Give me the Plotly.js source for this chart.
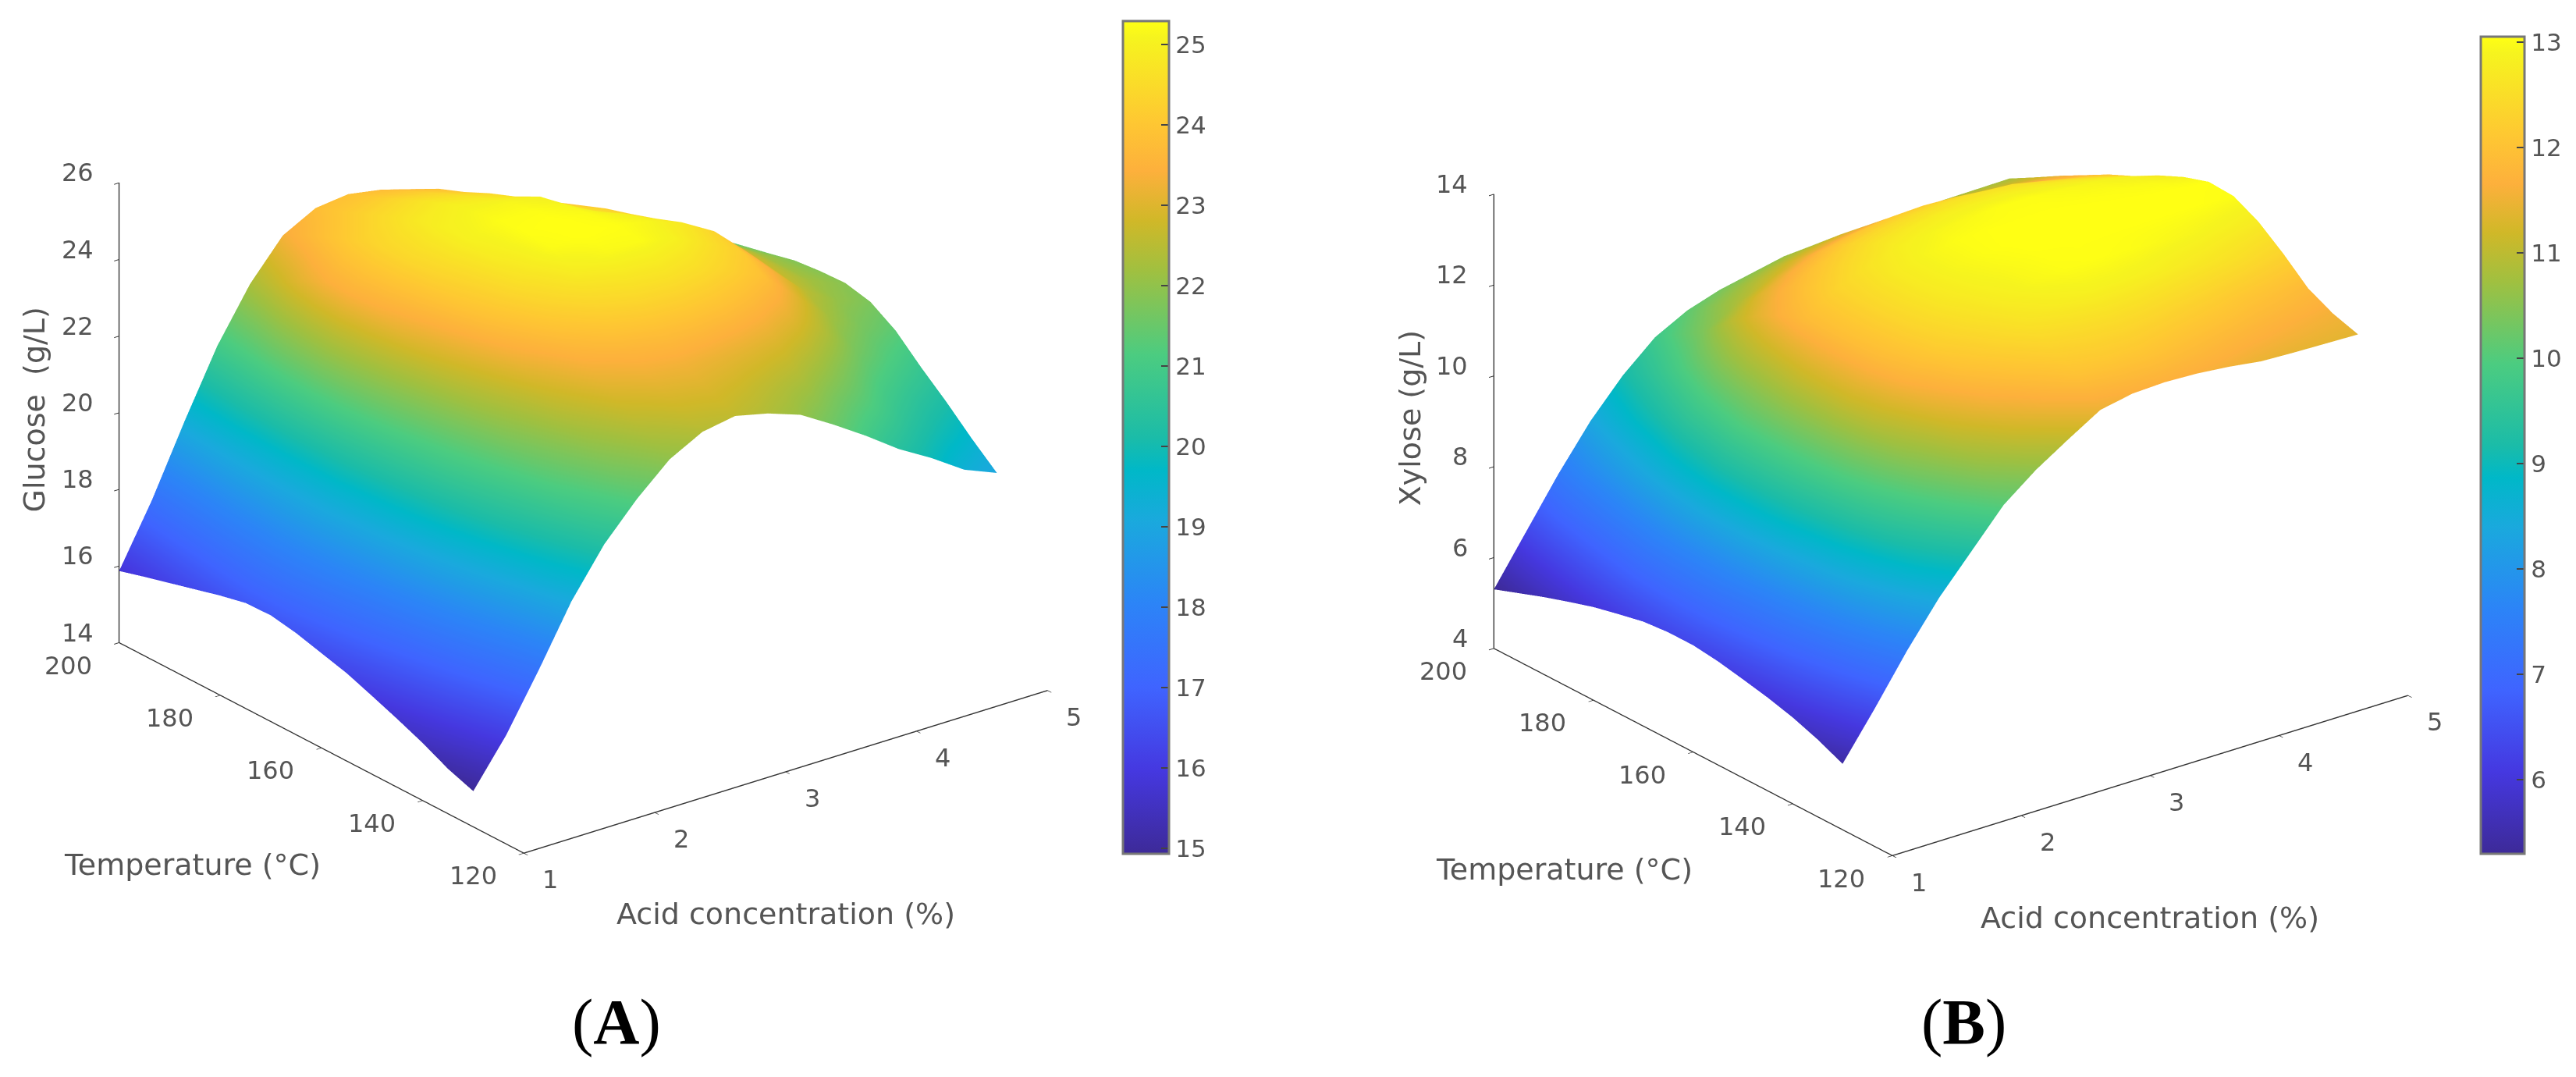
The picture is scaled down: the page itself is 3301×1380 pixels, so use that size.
<!DOCTYPE html>
<html>
<head>
<meta charset="utf-8">
<script src="https://cdn.plot.ly/plotly-3.0.1.min.js"></script>
<style>html,body{margin:0;padding:0;background:#fff}#chart{width:3301px;height:1380px}</style>
</head>
<body>
<div id="chart"></div>
<script>
const acid = [1, 1.25, 1.5, 1.75, 2, 2.25, 2.5, 2.75, 3, 3.25, 3.5, 3.75, 4, 4.25, 4.5, 4.75, 5];
const temperature = [130, 135, 140, 145, 150, 155, 160, 165, 170, 175, 180, 185, 190, 195, 200];
const acidTicks = [1, 2, 3, 4, 5];
const temperatureTicks = [120, 140, 160, 180, 200];
const glucoseTicks = [14, 16, 18, 20, 22, 24, 26];
const xyloseTicks = [4, 6, 8, 10, 12, 14];
const glucose = [
  [14.93, 16.12, 17.56, 19.09, 20.31, 21.23, 22.00, 22.45, 22.60, 22.40, 22.10, 21.58, 21.02, 20.41, 19.91, 19.34, 18.99],
  [15.17, 16.50, 17.92, 19.50, 20.72, 21.70, 22.40, 22.80, 22.92, 22.75, 22.50, 22.20, 21.63, 21.13, 20.52, 20.01, 19.55],
  [15.50, 16.85, 18.32, 19.85, 21.13, 22.10, 22.82, 23.17, 23.27, 23.17, 23.02, 22.82, 22.35, 21.73, 21.08, 20.57, 20.16],
  [15.78, 17.15, 18.68, 20.21, 21.48, 22.50, 23.22, 23.58, 23.80, 23.85, 23.75, 23.50, 23.10, 22.45, 21.70, 21.18, 20.72],
  [16.04, 17.41, 18.98, 20.51, 21.83, 22.85, 23.63, 24.20, 24.55, 24.65, 24.50, 24.20, 23.80, 23.00, 22.20, 21.68, 21.33],
  [16.29, 17.66, 19.19, 20.77, 22.14, 23.26, 24.15, 24.85, 25.15, 25.20, 25.00, 24.60, 24.15, 23.35, 22.55, 22.04, 21.74],
  [16.47, 17.87, 19.34, 20.97, 22.45, 23.67, 24.60, 25.20, 25.29, 25.25, 25.10, 24.80, 24.30, 23.50, 22.66, 22.20, 21.89],
  [16.65, 18.02, 19.44, 21.18, 22.76, 23.98, 24.85, 25.25, 25.29, 25.20, 24.95, 24.55, 24.05, 23.52, 22.76, 22.20, 21.86],
  [16.77, 18.12, 19.55, 21.38, 23.07, 24.24, 25.00, 25.22, 25.22, 25.10, 24.65, 24.33, 23.86, 23.30, 22.76, 22.20, 21.79],
  [16.75, 18.12, 19.55, 21.53, 23.32, 24.39, 24.95, 25.10, 25.10, 24.97, 24.44, 24.13, 23.66, 23.15, 22.65, 22.09, 21.63],
  [16.60, 18.02, 19.55, 21.58, 23.47, 24.35, 24.80, 24.95, 24.85, 24.63, 24.23, 23.87, 23.46, 22.95, 22.49, 21.93, 21.48],
  [16.42, 17.92, 19.50, 21.48, 23.37, 24.20, 24.55, 24.70, 24.58, 24.37, 23.97, 23.61, 23.15, 22.69, 22.29, 21.73, 21.33],
  [16.24, 17.76, 19.45, 21.33, 23.07, 23.92, 24.28, 24.40, 24.30, 24.06, 23.66, 23.30, 22.90, 22.44, 22.09, 21.53, 21.13],
  [16.06, 17.60, 19.35, 21.10, 22.65, 23.62, 24.00, 24.10, 24.00, 23.80, 23.40, 23.00, 22.55, 22.15, 21.85, 21.30, 20.90],
  [15.87, 17.45, 19.25, 20.95, 22.30, 23.30, 23.75, 23.85, 23.70, 23.45, 23.15, 22.75, 22.35, 21.95, 21.60, 21.15, 20.75]
];
const xylose = [
  [5.45, 6.45, 7.50, 8.45, 9.25, 10.05, 10.60, 11.05, 11.48, 11.62, 11.65, 11.62, 11.55, 11.45, 11.42, 11.40, 11.38],
  [5.70, 6.75, 7.90, 8.95, 9.80, 10.60, 11.15, 11.60, 12.00, 12.10, 12.10, 12.00, 11.90, 11.80, 11.70, 11.62, 11.55],
  [5.90, 7.00, 8.25, 9.35, 10.25, 11.05, 11.60, 12.00, 12.30, 12.40, 12.45, 12.40, 12.30, 12.20, 12.05, 11.95, 11.82],
  [6.05, 7.20, 8.50, 9.65, 10.65, 11.40, 11.95, 12.30, 12.60, 12.75, 12.85, 12.85, 12.80, 12.70, 12.60, 12.45, 12.30],
  [6.17, 7.35, 8.65, 9.85, 10.95, 11.70, 12.20, 12.50, 12.75, 12.92, 13.00, 13.02, 13.00, 12.95, 12.90, 12.82, 12.72],
  [6.28, 7.45, 8.80, 9.95, 11.10, 11.85, 12.30, 12.65, 12.85, 12.95, 13.02, 13.03, 13.03, 13.03, 13.03, 13.03, 13.00],
  [6.35, 7.55, 8.85, 10.00, 11.10, 11.90, 12.35, 12.70, 12.90, 13.00, 13.05, 13.05, 13.05, 13.05, 13.05, 13.05, 13.03],
  [6.35, 7.55, 8.85, 10.00, 11.05, 11.90, 12.35, 12.70, 12.90, 13.00, 13.03, 13.03, 13.03, 13.02, 13.00, 12.95, 12.85],
  [6.30, 7.50, 8.80, 9.95, 10.90, 11.85, 12.30, 12.60, 12.80, 12.90, 12.95, 13.00, 13.00, 12.95, 12.90, 12.80, 12.60],
  [6.18, 7.40, 8.65, 9.75, 10.75, 11.65, 12.05, 12.35, 12.60, 12.70, 12.78, 12.80, 12.80, 12.75, 12.65, 12.50, 12.30],
  [6.05, 7.20, 8.45, 9.55, 10.50, 11.35, 11.75, 12.05, 12.30, 12.42, 12.50, 12.55, 12.55, 12.50, 12.35, 12.20, 12.05],
  [5.88, 7.00, 8.20, 9.25, 10.15, 10.95, 11.35, 11.65, 11.90, 12.05, 12.15, 12.18, 12.15, 12.05, 11.95, 11.85, 11.75],
  [5.70, 6.80, 7.95, 8.95, 9.80, 10.45, 10.85, 11.15, 11.40, 11.55, 11.65, 11.70, 11.70, 11.65, 11.60, 11.52, 11.45],
  [5.50, 6.60, 7.70, 8.65, 9.45, 10.10, 10.50, 10.75, 10.95, 11.10, 11.20, 11.22, 11.25, 11.22, 11.20, 11.15, 11.13],
  [5.30, 6.35, 7.40, 8.35, 9.13, 9.75, 10.12, 10.35, 10.50, 10.65, 10.70, 10.75, 10.77, 10.79, 10.80, 10.81, 10.82]
];
const colorscale = [
  [0, '#3d2a98'], [0.1, '#4538e0'], [0.2, '#3f64ff'], [0.3, '#2c84f7'], [0.4, '#1aa9dd'],
  [0.46, '#00b8c8'], [0.5, '#1bbca8'], [0.6, '#4ccc80'], [0.7, '#a0c040'], [0.76, '#d0b828'],
  [0.82, '#fdb03c'], [0.88, '#fec832'], [0.98, '#f6f41e'], [1, '#ffff14']
];
const textColor = '#555555';
const font = 'DejaVu Sans';
const lighting = {ambient: 1, diffuse: 0, specular: 0, roughness: 1, fresnel: 0};

function axis(range, dtick) {
  return {
    range: range, dtick: dtick, title: {text: ''}, showgrid: false, zeroline: false,
    showbackground: false, showspikes: false, showline: true, linecolor: '#333', linewidth: 3,
    ticks: 'outside', ticklen: 8, tickcolor: '#333', tickwidth: 2, showticklabels: false
  };
}
const theta = 52.3 * Math.PI / 180, el = 23.7 * Math.PI / 180;
function camera(r) {
  return {
    up: {x: 0, y: 0, z: 1}, center: {x: 0, y: 0, z: 0},
    eye: {x: -r * Math.cos(theta) * Math.cos(el), y: -r * Math.sin(theta) * Math.cos(el), z: r * Math.sin(el)},
    projection: {type: 'orthographic'}
  };
}
function note(x, y, z, text, xshift, yshift, size, extra) {
  return Object.assign({x: x, y: y, z: z, text: text, showarrow: false, xshift: xshift, yshift: yshift,
    font: {family: font, size: size, color: textColor}}, extra || {});
}
function notes(zTicks, zMin, zMid, zTitle, titleShift) {
  const out = [];
  zTicks.forEach(v => out.push(note(1, 200, v, String(v), -31, 13, 32, {xanchor: 'right'})));
  temperatureTicks.forEach(v => out.push(note(1, v, zMin, String(v), -65, -29, 32)));
  acidTicks.forEach(v => out.push(note(v, 120, zMin, String(v), 34, -34, 32)));
  out.push(note(3, 120, zMin, 'Acid concentration (%)', 0, -182, 38));
  out.push(note(1, 160, zMin, 'Temperature (°C)', -165, -150, 38));
  out.push(note(1, 200, zMid, zTitle, -107 + titleShift, 4, 38, {textangle: -90}));
  return out;
}
function scene(xDomain, yDomain, zRange, ratio, zRatio, dz, zTicks, zMid, zTitle, titleShift) {
  return {
    domain: {x: xDomain, y: yDomain}, camera: camera(1.5), aspectmode: 'manual',
    aspectratio: {x: ratio, y: ratio, z: zRatio},
    xaxis: axis([1, 5], 1), yaxis: axis([120, 200], 20), zaxis: axis(zRange, dz),
    annotations: notes(zTicks, zRange[0], zMid, zTitle, titleShift)
  };
}
function surface(z, sceneId, cmin, cmax, bar) {
  return {
    type: 'surface', x: acid, y: temperature, z: z, scene: sceneId, cmin: cmin, cmax: cmax,
    colorscale: colorscale, lighting: lighting, hoverinfo: 'skip',
    contours: {x: {show: false}, y: {show: false}, z: {show: false}},
    colorbar: Object.assign({
      xref: 'container', yref: 'container',
      lenmode: 'pixels', thicknessmode: 'pixels', xanchor: 'left', yanchor: 'top',
      ticks: 'inside', ticklen: 11, tickcolor: '#444', tickwidth: 2, dtick: 1,
      outlinecolor: '#777', outlinewidth: 3, xpad: 0, ypad: 0,
      tickfont: {family: font, size: 31, color: textColor}
    }, bar)
  };
}
const data = [
  surface(glucose, 'scene', 14.93, 25.29, {x: 1439 / 3301, y: 1 - 27 / 1380, len: 1067, thickness: 59}),
  surface(xylose, 'scene2', 5.3, 13.05, {x: 3179 / 3301, y: 1 - 47 / 1380, len: 1047, thickness: 56})
];
const layout = {
  width: 3301, height: 1380, margin: {l: 0, r: 0, t: 0, b: 0, autoexpand: false}, paper_bgcolor: '#fff', showlegend: false,
  scene: scene([0, 710 / 1568], [124 / 656, 1], [14, 26], 1.516, 1.15, 2, glucoseTicks, 20, 'Glucose\u00a0\u00a0(g/L)', -2),
  scene2: scene([807.5 / 1568, 1567.5 / 1568], [114 / 656, 1], [4, 14], 1.465, 1.115, 2, xyloseTicks, 9, 'Xylose (g/L)', 0),
  annotations: [
    {xref: 'paper', yref: 'paper', x: 790 / 3301, y: 1 - 1309 / 1380, xanchor: 'center', yanchor: 'middle', showarrow: false,
      text: '(<b>A</b>)', font: {family: 'Liberation Serif', size: 82, color: '#000'}},
    {xref: 'paper', yref: 'paper', x: 2516 / 3301, y: 1 - 1309 / 1380, xanchor: 'center', yanchor: 'middle', showarrow: false,
      text: '(<b>B</b>)', font: {family: 'Liberation Serif', size: 82, color: '#000'}}
  ]
};
Plotly.newPlot('chart', data, layout, {displayModeBar: false, responsive: false});
</script>
</body>
</html>
